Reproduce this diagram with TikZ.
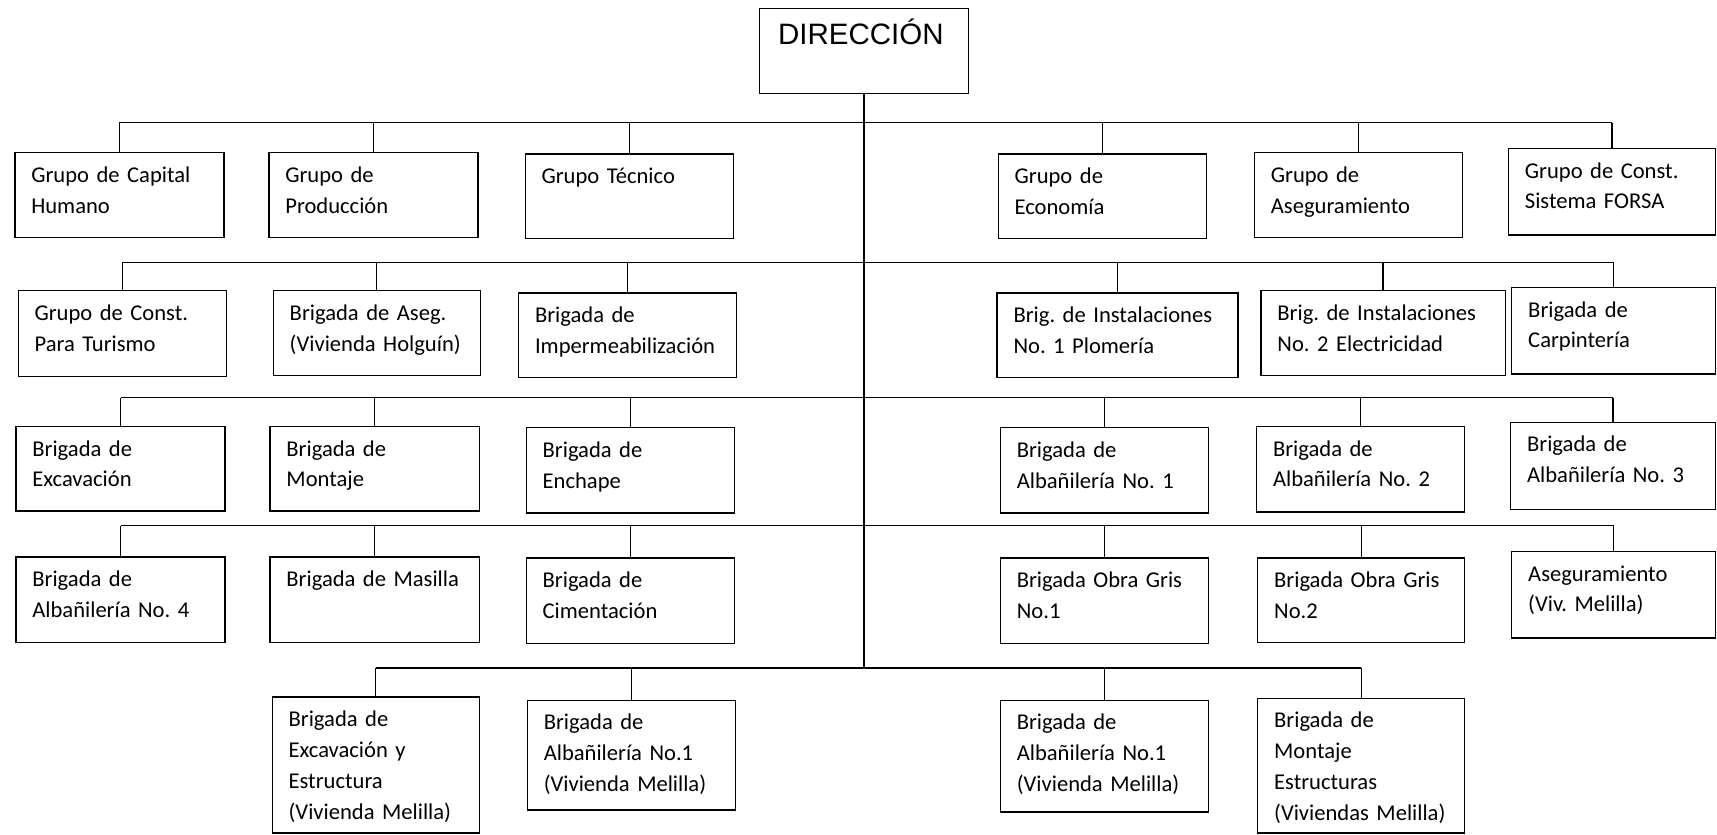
\documentclass[tikz,border=0pt]{standalone}
\usepackage{fontspec}
\setmainfont{Carlito}
\newfontfamily\arialfont{Liberation Sans}
\frenchspacing

\tikzset{
  unidad/.style 2 args={draw, line width=1pt, anchor=north west,
    inner xsep=4.5mm, inner ysep=0pt, align=left,
    text width={(#1-30)*0.3mm}, text height=8.1mm,
    text depth={(#2-27)*0.3mm},
    font=\fontsize{17.6}{24}\selectfont},
  enlace/.style={line width=1pt}
}

\begin{document}
\begin{tikzpicture}[x=0.3mm, y=-0.3mm]
\useasboundingbox (0,0) rectangle (1568,762);

% direccion
\node[unidad={191}{78}, inner xsep=5.1mm, text width={157*0.3mm},
      text height=9.9mm, text depth=13.5mm,
      font=\arialfont\fontsize{23}{28}\selectfont] (dir) at (693,7) {DIRECCIÓN};

% grupos
\node[unidad={191}{77}] (g1) at (13,139)   {Grupo de Capital\\Humano};
\node[unidad={191}{77}] (g2) at (245,139)  {Grupo de\\Producción};
\node[unidad={190}{77}] (g3) at (479,140)  {Grupo Técnico};
\node[unidad={190}{77}] (g4) at (911,140)  {Grupo de\\Economía};
\node[unidad={190}{77}] (g5) at (1145,139) {Grupo de\\Aseguramiento};
\node[unidad={189}{79}] (g6) at (1377,135) {Grupo de Const.\\Sistema FORSA};

% brigadas
\node[unidad={190}{78}] (b1) at (16,265)   {Grupo de Const.\\Para Turismo};
\node[unidad={189}{77}] (b2) at (249,265)  {Brigada de Aseg.\\(Vivienda Holguín)};
\node[unidad={199}{77}] (b3) at (473,267)  {Brigada de\\Impermeabilización};
\node[unidad={220}{77}] (b4) at (910,267)  {Brig. de Instalaciones\\No. 1 Plomería};
\node[unidad={223}{77}] (b5) at (1151,265) {Brig. de Instalaciones\\No. 2 Electricidad};
\node[unidad={186}{79}] (b6) at (1380,262) {Brigada de\\Carpintería};

\node[unidad={191}{77}] (c1) at (14,389)   {Brigada de\\Excavación};
\node[unidad={191}{77}] (c2) at (246,389)  {Brigada de\\Montaje};
\node[unidad={190}{78}] (c3) at (480,390)  {Brigada de\\Enchape};
\node[unidad={190}{78}] (c4) at (913,390)  {Brigada de\\Albañilería No. 1};
\node[unidad={190}{78}] (c5) at (1147,389) {Brigada de\\Albañilería No. 2};
\node[unidad={187}{80}] (c6) at (1379,385) {Brigada de\\Albañilería No. 3};

\node[unidad={191}{78}] (d1) at (14,508)   {Brigada de\\Albañilería No. 4};
\node[unidad={191}{78}] (d2) at (246,508)  {Brigada de Masilla};
\node[unidad={190}{78}] (d3) at (480,509)  {Brigada de\\Cimentación};
\node[unidad={190}{78}] (d4) at (913,509)  {Brigada Obra Gris\\No.1};
\node[unidad={189}{77}] (d5) at (1148,509) {Brigada Obra Gris\\No.2};
\node[unidad={186}{79}] (d6) at (1380,503) {Aseguramiento\\(Viv. Melilla)};

\node[unidad={189}{124}] (e1) at (248,636)  {Brigada de\\Excavación y\\Estructura\\(Vivienda Melilla)};
\node[unidad={190}{100}] (e2) at (481,639)  {Brigada de\\Albañilería No.1\\(Vivienda Melilla)};
\node[unidad={190}{102}] (e3) at (913,639)  {Brigada de\\Albañilería No.1\\(Vivienda Melilla)};
\node[unidad={189}{123}] (e4) at (1148,637) {Brigada de\\Montaje\\Estructuras\\(Viviendas Melilla)};

% barras
\coordinate (r1) at (0,112);
\coordinate (r2) at (0,240);
\coordinate (r3) at (0,363);
\coordinate (r4) at (0,480);
\coordinate (r5) at (0,610);

\draw[enlace] (dir.south) -- (dir.south |- r5);
\draw[enlace] (g1.north |- r1) -- (g6.north |- r1);
\draw[enlace] (b1.north |- r2) -- (b6.north |- r2);
\draw[enlace] (c1.north |- r3) -- (c6.north |- r3);
\draw[enlace] (d1.north |- r4) -- (d6.north |- r4);
\draw[enlace] (e1.north |- r5) -- (e4.north |- r5);

\foreach \n in {g1,g2,g3,g4,g5,g6}
  \draw[enlace] (\n.north) -- (\n.north |- r1);
\foreach \n in {b1,b2,b3,b4,b5,b6}
  \draw[enlace] (\n.north) -- (\n.north |- r2);
\foreach \n in {c1,c2,c3,c4,c5,c6}
  \draw[enlace] (\n.north) -- (\n.north |- r3);
\foreach \n in {d1,d2,d3,d4,d5,d6}
  \draw[enlace] (\n.north) -- (\n.north |- r4);
\foreach \n in {e1,e2,e3,e4}
  \draw[enlace] (\n.north) -- (\n.north |- r5);

\end{tikzpicture}
\end{document}
